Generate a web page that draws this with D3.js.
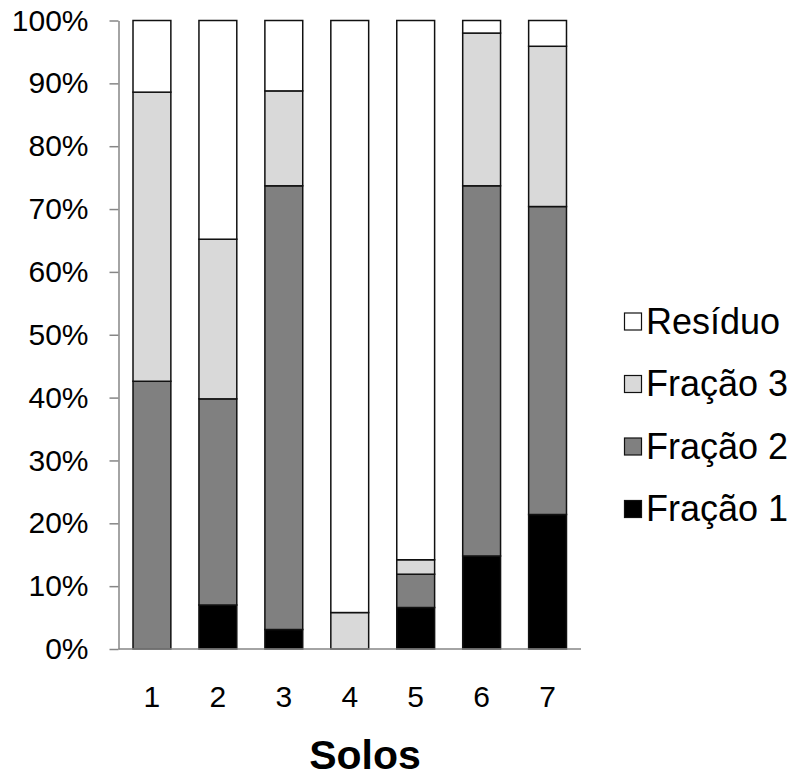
<!DOCTYPE html>
<html>
<head>
<meta charset="utf-8">
<script src="https://cdn.jsdelivr.net/npm/d3@7"></script>
<style>
  html, body { margin: 0; padding: 0; background: #fff; }
  svg { display: block; }
  text { font-family: "Liberation Sans", Arial, sans-serif; fill: #000; }
</style>
</head>
<body>
<svg id="chart" width="807" height="780"></svg>
<script>
// Soil samples on the x axis
const solos = ["1", "2", "3", "4", "5", "6", "7"];

// Share (%) of each fraction per soil, stacked bottom to top
const fracao1 = [0.0, 7.0, 3.1, 0.0, 6.6, 14.8, 21.4];
const fracao2 = [42.6, 32.8, 70.6, 0.0, 5.3, 58.9, 49.0];
const fracao3 = [46.0, 25.4, 15.1, 5.8, 2.3, 24.3, 25.5];
const residuo = [11.4, 34.8, 11.2, 94.2, 85.8, 2.0, 4.1];

const seriesNames = ["Fração 1", "Fração 2", "Fração 3", "Resíduo"];
const seriesColors = ["#000000", "#808080", "#d9d9d9", "#ffffff"];
const yTicks = [0, 10, 20, 30, 40, 50, 60, 70, 80, 90, 100];

const rows = solos.map((s, i) => ({
  solo: s,
  "Fração 1": fracao1[i],
  "Fração 2": fracao2[i],
  "Fração 3": fracao3[i],
  "Resíduo": residuo[i]
}));

const svg = d3.select("#chart");
const plot = { left: 118.5, right: 581, top: 20.5, bottom: 649 };

const x = d3.scaleBand()
  .domain(solos)
  .range([plot.left, plot.right])
  .paddingInner(0.426)
  .paddingOuter(0.22);

const y = d3.scaleLinear()
  .domain([0, 100])
  .range([plot.bottom, plot.top]);

const stacked = d3.stack().keys(seriesNames)(rows);
const color = d3.scaleOrdinal().domain(seriesNames).range(seriesColors);

// Y axis with percent labels
const yAxis = svg.append("g")
  .attr("transform", `translate(${plot.left},0)`)
  .call(d3.axisLeft(y).tickValues(yTicks).tickFormat(d => d + "%").tickSize(9).tickSizeOuter(0).tickPadding(21));
yAxis.select(".domain").attr("stroke", "#868686").attr("stroke-width", 1.5);
yAxis.selectAll(".tick line").attr("stroke", "#868686").attr("stroke-width", 1.5);
yAxis.selectAll(".tick text")
  .attr("font-size", 30)
  .attr("font-family", "Liberation Sans, Arial, sans-serif")
  .attr("fill", "#000");

// Stacked bars
svg.append("g")
  .selectAll("g")
  .data(stacked)
  .join("g")
  .attr("fill", d => color(d.key))
  .selectAll("rect")
  .data(d => d.filter(p => p[1] - p[0] > 0))
  .join("rect")
  .attr("x", d => x(d.data.solo))
  .attr("width", x.bandwidth())
  .attr("y", d => y(d[1]))
  .attr("height", d => y(d[0]) - y(d[1]))
  .attr("stroke", "#111")
  .attr("stroke-width", 1.5);

// X axis
const xAxis = svg.append("g")
  .attr("transform", `translate(0,${plot.bottom})`)
  .call(d3.axisBottom(x).tickSize(0).tickSizeOuter(0).tickPadding(37));
xAxis.select(".domain").attr("stroke", "#868686").attr("stroke-width", 1.5)
  .attr("d", `M${plot.left},0H${plot.right}`);
xAxis.selectAll(".tick text")
  .attr("font-size", 30)
  .attr("font-family", "Liberation Sans, Arial, sans-serif")
  .attr("fill", "#000");

// X axis title
svg.append("text")
  .attr("x", 365)
  .attr("y", 769)
  .attr("text-anchor", "middle")
  .attr("font-size", 41)
  .attr("font-weight", "bold")
  .text("Solos");

// Legend, top entry is the top of the stack
const legendOrder = seriesNames.slice().reverse();
const legend = svg.append("g").attr("transform", "translate(624,321)");
const item = legend.selectAll("g")
  .data(legendOrder)
  .join("g")
  .attr("transform", (d, i) => `translate(0,${i * 62.5})`);
item.append("rect")
  .attr("x", 0.5).attr("y", -8)
  .attr("width", 17).attr("height", 17)
  .attr("fill", d => color(d))
  .attr("stroke", "#111")
  .attr("stroke-width", 1.2);
item.append("text")
  .attr("x", 22)
  .attr("y", 0)
  .attr("dy", "0.36em")
  .attr("font-size", 36)
  .text(d => d);
</script>
</body>
</html>
